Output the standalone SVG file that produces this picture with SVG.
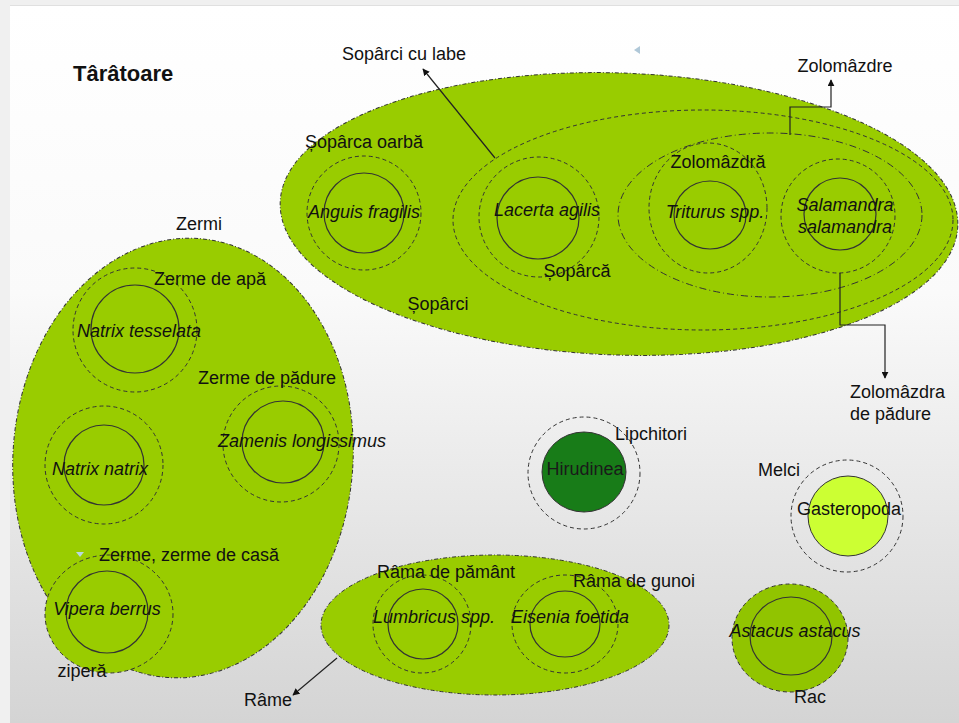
<svg xmlns="http://www.w3.org/2000/svg" width="959" height="723" viewBox="0 0 959 723">
<defs>
<linearGradient id="bg" x1="0" y1="0" x2="0" y2="1">
<stop offset="0" stop-color="#ffffff"/>
<stop offset="0.4" stop-color="#fafafa"/>
<stop offset="1" stop-color="#d4d4d4"/>
</linearGradient>
<marker id="arr" viewBox="0 0 10 10" refX="9" refY="5" markerWidth="7" markerHeight="7" orient="auto" markerUnits="userSpaceOnUse">
<path d="M0,0 L10,5 L0,10 z" fill="#111"/>
</marker>
<style>
.grp{fill:#99cc00;stroke:#333;stroke-width:1;stroke-dasharray:4 2 1 2}
.dash{fill:none;stroke:#333;stroke-width:1;stroke-dasharray:4 3}
.dashdot{fill:none;stroke:#333;stroke-width:1;stroke-dasharray:7 3 1 3}
.solid{fill:none;stroke:#333;stroke-width:1.2}
.t{font-family:"Liberation Sans",Arial,sans-serif;font-size:18px;fill:#111}
.i{font-style:italic}
.m{text-anchor:middle}
.conn{fill:none;stroke:#222;stroke-width:1.2}
</style>
</defs>
<rect width="959" height="723" fill="#f0f0f0"/>
<rect x="10" y="6" width="949" height="717" fill="url(#bg)"/>
<line x1="10" y1="5.5" x2="959" y2="5.5" stroke="#e0e0e0" stroke-width="1"/>

<text class="t" x="73" y="81" style="font-weight:bold;font-size:22px">Târâtoare</text>

<g id="soparci">
<ellipse class="grp" cx="619" cy="214" rx="339" ry="141" transform="rotate(2 619 214)"/>
<text class="t m" x="438" y="310">Șopârci</text>
</g>
<g id="soparci-cu-labe">
<ellipse class="dash" cx="703" cy="220" rx="250" ry="110"/>
<text class="t" x="342" y="60">Sopârci cu labe</text>
</g>
<g id="zolomazdre">
<ellipse class="dashdot" cx="770" cy="215" rx="152" ry="82"/>
<text class="t m" x="845" y="72">Zolomâzdre</text>
</g>
<g id="anguis">
<circle class="dash" cx="364" cy="213" r="57"/>
<circle class="solid" cx="364" cy="213" r="40"/>
<text class="t" x="305" y="148">Șopârca oarbă</text>
<text class="t i m" x="364" y="218">Anguis fragilis</text>
</g>
<g id="lacerta">
<circle class="dash" cx="539" cy="217" r="60"/>
<circle class="solid" cx="538" cy="218" r="41"/>
<text class="t i m" x="547" y="216">Lacerta agilis</text>
<text class="t m" x="577" y="277">Șopârcă</text>
</g>
<g id="triturus">
<ellipse class="dash" cx="708" cy="208" rx="59" ry="65"/>
<ellipse class="solid" cx="710" cy="215" rx="36" ry="34"/>
<text class="t m" x="718" y="168">Zolomâzdră</text>
<text class="t i m" x="715" y="218">Triturus spp.</text>
</g>
<g id="salamandra">
<circle class="dash" cx="838" cy="216" r="57"/>
<ellipse class="solid" cx="840" cy="214" rx="36" ry="36"/>
<text class="t i m" x="845" y="211">Salamandra</text>
<text class="t i m" x="845" y="233">salamandra</text>
<text class="t" x="850" y="398">Zolomâzdra</text>
<text class="t" x="850" y="420">de pădure</text>
</g>

<g id="zermi">
<ellipse class="grp" cx="183" cy="458" rx="170" ry="220" transform="rotate(4 183 458)"/>
<text class="t m" x="199" y="230">Zermi</text>
</g>
<g id="natrix-tesselata">
<circle class="dash" cx="135" cy="330" r="62"/>
<circle class="solid" cx="135" cy="329" r="44"/>
<text class="t m" x="210" y="285">Zerme de apă</text>
<text class="t i m" x="139" y="337">Natrix tesselata</text>
</g>
<g id="zamenis">
<circle class="dash" cx="281" cy="444" r="58"/>
<circle class="solid" cx="283" cy="442" r="41"/>
<text class="t m" x="267" y="384">Zerme de pădure</text>
<text class="t i m" x="302" y="447">Zamenis longissimus</text>
</g>
<g id="natrix-natrix">
<circle class="dash" cx="104" cy="465" r="59"/>
<circle class="solid" cx="104" cy="465" r="40"/>
<text class="t i m" x="100" y="475">Natrix natrix</text>
</g>
<g id="vipera">
<ellipse class="dash" cx="109" cy="614" rx="64" ry="59" style="fill:#99cc00"/>
<circle class="solid" cx="107" cy="612" r="41"/>
<text class="t m" x="189" y="561">Zerme, zerme de casă</text>
<text class="t i m" x="107" y="615">Vipera berrus</text>
<text class="t m" x="82" y="677">ziperă</text>
</g>
<polygon points="76,552 84,552 80,557" fill="#b8d8e0"/>
<polygon points="640,46 640,54 634,50" fill="#b0c8d8"/>

<g id="rame">
<ellipse class="grp" cx="495" cy="625" rx="174" ry="70"/>
<text class="t m" x="268" y="706">Râme</text>
</g>
<g id="lumbricus">
<circle class="dash" cx="422" cy="624" r="49"/>
<circle class="solid" cx="423" cy="624" r="35"/>
<text class="t m" x="446" y="578">Râma de pământ</text>
<text class="t i m" x="434" y="623">Lumbricus spp.</text>
</g>
<g id="eisenia">
<ellipse class="dash" cx="565" cy="624" rx="53" ry="49"/>
<ellipse class="solid" cx="565" cy="624" rx="35" ry="33"/>
<text class="t m" x="634" y="587">Râma de gunoi</text>
<text class="t i m" x="570" y="623">Eisenia foetida</text>
</g>

<g id="hirudinea">
<circle class="dash" cx="584" cy="473" r="56"/>
<ellipse cx="584" cy="472" rx="42" ry="40" fill="#187c18" stroke="#333" stroke-width="1"/>
<text class="t m" x="585" y="475" style="fill:#1a1a1a">Hirudinea</text>
<text class="t m" x="651" y="440">Lipchitori</text>
</g>
<g id="gasteropoda">
<circle class="dash" cx="847" cy="516" r="56"/>
<circle cx="848" cy="516" r="40" fill="#ccff33" stroke="#333" stroke-width="1"/>
<text class="t m" x="849" y="515">Gasteropoda</text>
<text class="t m" x="779" y="476">Melci</text>
</g>
<g id="astacus">
<ellipse class="dash" cx="790" cy="638" rx="58" ry="54" style="fill:#91c400"/>
<ellipse class="solid" cx="791" cy="636" rx="41" ry="39"/>
<text class="t i m" x="795" y="637">Astacus astacus</text>
<text class="t m" x="810" y="703">Rac</text>
</g>

<g id="connectors">
<line class="conn" x1="495" y1="158" x2="423" y2="69" marker-end="url(#arr)"/>
<path class="conn" d="M790,135 V107 H831 V80" marker-end="url(#arr)"/>
<path class="conn" d="M840,273 V325 H885 V378" marker-end="url(#arr)"/>
<line class="conn" x1="337" y1="658" x2="293" y2="695" marker-end="url(#arr)"/>
</g>
</svg>
